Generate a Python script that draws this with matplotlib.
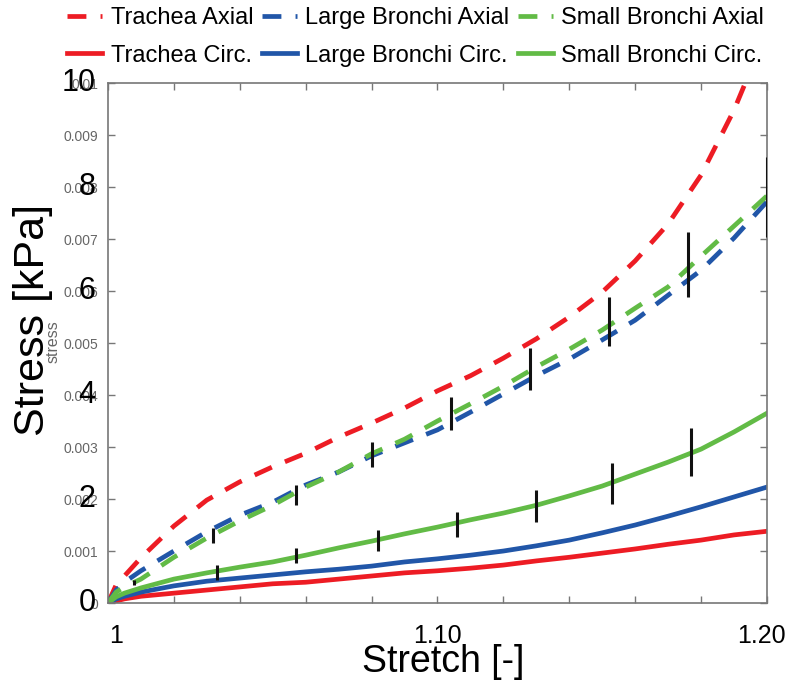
import matplotlib
matplotlib.use("Agg")
import matplotlib.pyplot as plt
import matplotlib.transforms as mtransforms

plt.rcParams['font.family'] = ['Liberation Sans', 'DejaVu Sans']

# --- Data: stretch [-] vs stress [kPa] ---
stretch = [1.0, 1.0025, 1.005, 1.01, 1.02, 1.03, 1.04, 1.05, 1.06, 1.07, 1.08,
           1.09, 1.10, 1.11, 1.12, 1.13, 1.14, 1.15, 1.16, 1.17, 1.18, 1.19, 1.20]

trachea_axial = [0, 0.35, 0.52, 0.87, 1.48, 1.98, 2.33, 2.62, 2.88, 3.19, 3.46,
                 3.75, 4.08, 4.37, 4.71, 5.08, 5.50, 5.98, 6.58, 7.29, 8.23, 9.48, 11.0]
large_axial = [0, 0.25, 0.40, 0.62, 1.00, 1.37, 1.69, 1.94, 2.27, 2.52, 2.83,
               3.08, 3.33, 3.67, 4.02, 4.37, 4.69, 5.06, 5.44, 5.92, 6.40, 7.02, 7.72]
small_axial = [0, 0.21, 0.31, 0.46, 0.88, 1.25, 1.58, 1.88, 2.23, 2.52, 2.87,
               3.15, 3.50, 3.83, 4.17, 4.54, 4.88, 5.25, 5.67, 6.08, 6.67, 7.25, 7.83]
trachea_circ = [0, 0.04, 0.08, 0.13, 0.19, 0.25, 0.31, 0.37, 0.40, 0.46, 0.52,
                0.58, 0.62, 0.67, 0.73, 0.81, 0.88, 0.96, 1.04, 1.13, 1.21, 1.31, 1.38]
large_circ = [0, 0.08, 0.13, 0.21, 0.33, 0.42, 0.48, 0.54, 0.60, 0.65, 0.71,
              0.79, 0.85, 0.92, 1.00, 1.10, 1.21, 1.35, 1.50, 1.67, 1.85, 2.04, 2.23]
small_circ = [0, 0.12, 0.19, 0.29, 0.46, 0.58, 0.69, 0.79, 0.92, 1.06, 1.19,
              1.33, 1.46, 1.60, 1.73, 1.88, 2.06, 2.25, 2.48, 2.71, 2.96, 3.29, 3.65]

# experimental data (mean +- sd)
axial_x = [1.008, 1.032, 1.057, 1.080, 1.104, 1.128, 1.152, 1.176, 1.200]
axial_mean = [0.39, 1.30, 2.08, 2.86, 3.64, 4.50, 5.41, 6.51, 7.81]
axial_err = [0.05, 0.14, 0.19, 0.24, 0.32, 0.40, 0.47, 0.63, 0.77]
circ_x = [1.033, 1.057, 1.082, 1.106, 1.130, 1.153, 1.177]
circ_mean = [0.59, 0.91, 1.20, 1.51, 1.87, 2.30, 2.90]
circ_err = [0.14, 0.14, 0.20, 0.24, 0.31, 0.39, 0.46]

small_ticks = [0, 1, 2, 3, 4, 5, 6, 7, 8, 9, 10]
small_tick_labels = ['0', '0.001', '0.002', '0.003', '0.004', '0.005',
                     '0.006', '0.007', '0.008', '0.009', '0.01']
big_ticks = [0, 2, 4, 6, 8, 10]
x_ticks = [1.0, 1.02, 1.04, 1.06, 1.08, 1.10, 1.12, 1.14, 1.16, 1.18, 1.20]
x_tick_labels = ['1', '', '', '', '', '1.10', '', '', '', '', '1.20']

RED = '#ED1C24'
BLUE = '#2156A8'
GREEN = '#62BB46'
GREY = '#777777'
dash = (0, (4.0, 3.0))

# --- Plot ---
fig = plt.figure(figsize=(7.88, 6.88), dpi=100)
ax = fig.add_axes([0.137, 0.1235, 0.8363, 0.7558])

lw = 3.4
l1, = ax.plot(stretch, trachea_axial, color=RED, lw=lw, ls=dash, label='Trachea Axial')
l4, = ax.plot(stretch, trachea_circ, color=RED, lw=lw, label='Trachea Circ.')
l2, = ax.plot(stretch, large_axial, color=BLUE, lw=lw, ls=dash, label='Large Bronchi Axial')
l5, = ax.plot(stretch, large_circ, color=BLUE, lw=lw, label='Large Bronchi Circ.')
l3, = ax.plot(stretch, small_axial, color=GREEN, lw=lw, ls=dash, label='Small Bronchi Axial')
l6, = ax.plot(stretch, small_circ, color=GREEN, lw=lw, label='Small Bronchi Circ.')

ax.errorbar(axial_x, axial_mean, yerr=axial_err, fmt='none', ecolor='#111111',
            elinewidth=2.2, capsize=0, zorder=5)
ax.errorbar(circ_x, circ_mean, yerr=circ_err, fmt='none', ecolor='#111111',
            elinewidth=2.2, capsize=0, zorder=5)

ax.set_xlim(1.0, 1.2)
ax.set_ylim(0, 10)
ax.set_xticks(x_ticks)
ax.set_xticklabels(x_tick_labels, fontsize=18)
ax.set_yticks(small_ticks)
ax.set_yticklabels(small_tick_labels, fontsize=10, color='#666666')
ax.tick_params(direction='in', top=True, right=True, length=5, width=1, color=GREY)
ax.tick_params(axis='x', pad=15)
ax.tick_params(axis='y', pad=7)
for s in ax.spines.values():
    s.set_color(GREY)
    s.set_linewidth(1.2)

# nudge the first and last stretch labels like in the original
xlabels = ax.get_xticklabels()
xlabels[0].set_transform(xlabels[0].get_transform() +
                         mtransforms.ScaledTranslation(8 / 100, 0, fig.dpi_scale_trans))
xlabels[-1].set_transform(xlabels[-1].get_transform() +
                          mtransforms.ScaledTranslation(-6 / 100, 0, fig.dpi_scale_trans))

# big overlaid stress labels
trans = mtransforms.blended_transform_factory(ax.transAxes, ax.transData)
for v in big_ticks:
    ax.text(-0.019, v, str(v), transform=trans, ha='right', va='center',
            fontsize=22, color='black', zorder=10)

fig.text(33 / 788, 1 - 320 / 688, 'Stress [kPa]', rotation=90, ha='center',
         va='center', fontsize=31)
fig.text(53 / 788, 1 - 342 / 688, 'stress', rotation=90, ha='center',
         va='center', fontsize=11.5, color='#666666')
fig.text(443 / 788, 1 - 662 / 688, 'Stretch [-]', ha='center', va='center',
         fontsize=27)

fig.legend(handles=[l1, l4, l2, l5, l3, l6], ncol=3, loc='center left',
           bbox_to_anchor=(67 / 788, 1 - 37 / 688), bbox_transform=fig.transFigure,
           frameon=False, fontsize=17, handlelength=1.5, handletextpad=0.35,
           columnspacing=0.35, labelspacing=0.64, borderpad=0, borderaxespad=0)

plt.savefig('out.png', dpi=100)
plt.close()
